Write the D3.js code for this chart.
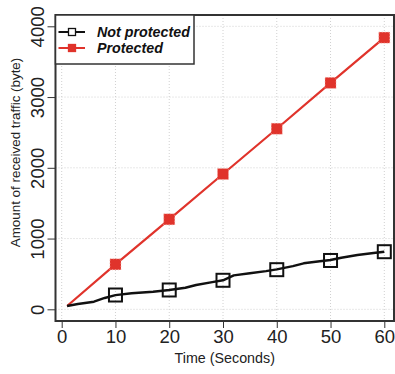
<!DOCTYPE html>
<html><head><meta charset="utf-8">
<script src="https://cdn.jsdelivr.net/npm/d3@7"></script>
<style>body{margin:0;background:#fff}svg{display:block}</style>
</head><body>
<script>
const xTicks = [0,10,20,30,40,50,60];
const yTicks = [0,1000,2000,3000,4000];
const npTimes = [1,3,6,8,10,13,17,20,23,25,28,30,32,35,38,40,43,45,48,50,52,55,58,60];
const npValues = [47,75,107,160,200,226,249,273,305,343,385,410,480,510,540,565,610,650,680,697,729,767,795,814];
const npMarkT = [10,20,30,40,50,60];
const npMarkV = [202,273,410,560,690,814];
const prTimes = [1,10,20,30,40,50,60];
const prValues = [47,636,1272,1912,2552,3200,3840];
const seriesNames = ["Not protected","Protected"];

const W=395,H=374;
const svg=d3.select("body").append("svg").attr("width",W).attr("height",H);
const x=d3.scaleLinear().domain([0,60]).range([61.7,384.3]);
const y=d3.scaleLinear().domain([0,4000]).range([309.3,26.3]);
const L=55.5,R=394,T=15,B=321;
const red="#e0332b";
const font="Liberation Sans, Arial, sans-serif";

// grid
svg.append("g").selectAll("line").data(xTicks).join("line")
 .attr("x1",d=>x(d)).attr("x2",d=>x(d)).attr("y1",T).attr("y2",B)
 .attr("stroke","#d0d0d0").attr("stroke-width",1).attr("stroke-dasharray","1,2");
svg.append("g").selectAll("line").data(yTicks).join("line")
 .attr("y1",d=>y(d)).attr("y2",d=>y(d)).attr("x1",L).attr("x2",R)
 .attr("stroke","#d0d0d0").attr("stroke-width",1).attr("stroke-dasharray","1,2");

// axes
const xa=svg.append("g").attr("transform",`translate(0,${B})`)
 .call(d3.axisBottom(x).tickValues(xTicks).tickFormat(d3.format("d")).tickSize(7).tickPadding(2));
xa.select(".domain").remove();
xa.selectAll("text").attr("font-size",18.5).attr("font-family",font).attr("fill","#222");
xa.selectAll("line").attr("stroke","#333");
const ya=svg.append("g").attr("transform",`translate(${L},0)`)
 .call(d3.axisLeft(y).tickValues(yTicks).tickFormat(d3.format("d")).tickSize(8).tickPadding(0));
ya.select(".domain").remove();
ya.selectAll("line").attr("stroke","#333");
ya.selectAll("text").attr("font-size",18.5).attr("font-family",font).attr("fill","#222")
 .attr("text-anchor","middle").attr("x",0).attr("y",0).attr("dy",0)
 .attr("transform","translate(-12,0) rotate(-90)");

// lines
const line=d3.line().x(d=>x(d[0])).y(d=>y(d[1]));
svg.append("path").datum(prTimes.map((t,i)=>[t,prValues[i]]))
 .attr("d",line).attr("fill","none").attr("stroke",red).attr("stroke-width",2.2);
svg.append("path").datum(npTimes.map((t,i)=>[t,npValues[i]]))
 .attr("d",line).attr("fill","none").attr("stroke","#111").attr("stroke-width",2.4).attr("stroke-linejoin","round");

// markers
const ps=11;
svg.append("g").selectAll("rect").data(prTimes.slice(1).map((t,i)=>[t,prValues[i+1]])).join("rect")
 .attr("x",d=>x(d[0])-ps/2).attr("y",d=>y(d[1])-ps/2).attr("width",ps).attr("height",ps)
 .attr("fill",red).attr("stroke","#f4b0a8").attr("stroke-width",0.8).attr("stroke-dasharray","1,2");
const ns=13;
svg.append("g").selectAll("rect").data(npMarkT.map((t,i)=>[t,npMarkV[i]])).join("rect")
 .attr("x",d=>x(d[0])-ns/2).attr("y",d=>y(d[1])-ns/2).attr("width",ns).attr("height",ns)
 .attr("fill","none").attr("stroke","#111").attr("stroke-width",2);

// box
svg.append("path").attr("d",`M${L},${T}H${R}V${B}H${L}Z`).attr("fill","none").attr("stroke","#333").attr("stroke-width",2);

// legend
const lg=svg.append("g");
lg.append("rect").attr("x",L).attr("y",T).attr("width",194-L).attr("height",64-T)
 .attr("fill","#fff").attr("stroke","#333").attr("stroke-width",1.5);
const rows=[{y:32,c:"#111",filled:false},{y:48,c:red,filled:true}];
rows.forEach((r,i)=>{
  lg.append("line").attr("x1",58.5).attr("x2",85).attr("y1",r.y).attr("y2",r.y).attr("stroke",r.c).attr("stroke-width",2);
  lg.append("rect").attr("x",72-3.5).attr("y",r.y-3.5).attr("width",7).attr("height",7)
   .attr("fill",r.filled?r.c:"#fff").attr("stroke",r.c).attr("stroke-width",1.3);
  lg.append("text").attr("x",97).attr("y",r.y+5).text(seriesNames[i])
   .attr("font-size",14.3).attr("font-weight","bold").attr("font-style","italic")
   .attr("font-family",font).attr("fill","#111");
});

// titles
svg.append("text").attr("x",(L+R)/2).attr("y",363).attr("text-anchor","middle")
 .attr("font-size",14.3).attr("font-family",font).attr("fill","#222").text("Time (Seconds)");
svg.append("text").attr("transform","translate(20,152.5) rotate(-90)").attr("text-anchor","middle")
 .attr("font-size",13.4).attr("font-family",font).attr("fill","#222").text("Amount of received traffic (byte)");
</script>
</body></html>
